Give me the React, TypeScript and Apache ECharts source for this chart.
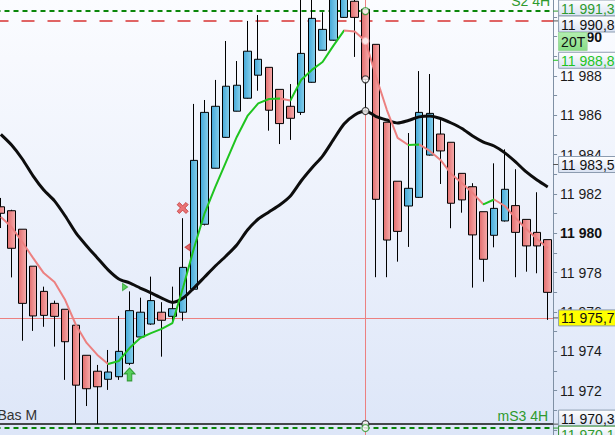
import React, { useEffect, useRef } from 'react';
import * as echarts from 'echarts';

// bougies : [ouverture, clôture, plus bas, plus haut]
const candles: number[][] = [
  [11981.35, 11981.02, 11980.27, 11981.8],
  [11981.15, 11979.24, 11977.76, 11981.2],
  [11980.21, 11976.44, 11974.54, 11980.21],
  [11978.33, 11975.8, 11975.04, 11978.33],
  [11977.05, 11975.83, 11975.25, 11977.29],
  [11976.44, 11975.78, 11974.24, 11976.58],
  [11976.14, 11974.49, 11972.55, 11976.14],
  [11975.33, 11972.28, 11970.31, 11975.33],
  [11973.8, 11972.1, 11971.22, 11973.8],
  [11972.99, 11972.2, 11970.31, 11973.31],
  [11972.58, 11972.95, 11972.04, 11974.07],
  [11972.71, 11974.0, 11972.55, 11975.8],
  [11973.39, 11976.07, 11973.3, 11977.05],
  [11974.73, 11975.99, 11974.7, 11976.73],
  [11975.39, 11976.58, 11975.35, 11977.8],
  [11975.99, 11975.58, 11973.73, 11976.5],
  [11975.78, 11976.17, 11975.54, 11977.29],
  [11975.99, 11978.27, 11975.56, 11980.77],
  [11977.16, 11983.71, 11977.1, 11986.58],
  [11980.46, 11986.15, 11980.4, 11986.78],
  [11983.31, 11986.46, 11983.3, 11987.8],
  [11984.88, 11987.48, 11984.85, 11989.78],
  [11986.21, 11987.53, 11986.2, 11988.76],
  [11986.87, 11989.26, 11986.85, 11990.8],
  [11988.04, 11988.85, 11987.25, 11991.1],
  [11988.44, 11986.26, 11985.22, 11988.44],
  [11987.32, 11985.58, 11984.54, 11987.32],
  [11986.46, 11985.85, 11984.75, 11987.59],
  [11986.15, 11989.15, 11986.02, 11992.3],
  [11987.68, 11990.93, 11987.66, 11992.4],
  [11989.31, 11990.37, 11989.3, 11991.24],
  [11989.82, 11992.1, 11989.8, 11992.5],
  [11990.98, 11992.3, 11990.95, 11992.6],
  [11991.8, 11990.98, 11988.97, 11992.0],
  [11991.39, 11987.83, 11986.22, 11991.39],
  [11989.61, 11981.73, 11977.77, 11989.61],
  [11985.65, 11979.66, 11977.77, 11985.65],
  [11982.65, 11980.1, 11978.56, 11982.65],
  [11981.39, 11982.29, 11979.31, 11985.1],
  [11981.83, 11986.15, 11981.8, 11988.25],
  [11983.98, 11986.1, 11983.95, 11988.1],
  [11985.05, 11984.19, 11982.51, 11985.76],
  [11984.63, 11981.53, 11980.26, 11984.63],
  [11983.05, 11981.7, 11981.05, 11983.05],
  [11982.37, 11979.92, 11977.24, 11982.55],
  [11981.1, 11978.68, 11977.54, 11981.1],
  [11979.9, 11981.27, 11979.29, 11983.56],
  [11980.63, 11982.24, 11980.6, 11984.27],
  [11981.41, 11980.05, 11977.77, 11983.26],
  [11980.71, 11979.36, 11978.05, 11980.71],
  [11980.05, 11979.36, 11977.97, 11982.09],
  [11979.68, 11977.0, 11975.6, 11979.68],
];

const slowMa = [
  11985.03, 11984.49, 11983.78, 11982.92, 11982.2, 11981.65, 11980.88, 11980.02, 11979.36, 11978.75,
  11978.14, 11977.68, 11977.48, 11977.22, 11976.97, 11976.71, 11976.49, 11976.71, 11977.22, 11977.78,
  11978.34, 11978.85, 11979.41, 11980.17, 11980.73, 11981.09, 11981.44, 11981.9, 11982.66, 11983.32,
  11983.93, 11984.75, 11985.56, 11986.02, 11986.22, 11985.94, 11985.76, 11985.61, 11985.74, 11985.92,
  11985.97, 11985.84, 11985.61, 11985.33, 11984.95, 11984.64, 11984.44, 11984.09, 11983.63, 11983.12,
  11982.71, 11982.36,
];

const fastMa = [
  11980.83, 11980.32, 11979.56, 11978.75, 11977.98, 11977.53, 11976.61, 11975.34, 11974.43, 11973.82,
  11973.36, 11973.51, 11974.17, 11974.68, 11974.93, 11975.14, 11975.44, 11977.26, 11979.23, 11981.02,
  11982.36, 11983.63, 11984.9, 11985.97, 11986.61, 11986.83, 11986.86, 11986.75, 11987.8, 11988.31,
  11988.71, 11989.53, 11990.31, 11990.26, 11989.78, 11987.95, 11986.27, 11984.85, 11984.49, 11984.52,
  11984.19, 11983.73, 11983.02, 11982.56, 11982.05, 11981.47, 11981.72, 11981.39, 11980.78, 11980.22,
  11979.71, 11979.26,
];

const levelS2 = 11991.3;
const levelRed = 11990.8;
const levelLow = 11970.3;
const levelMS3 = 11970.1;
const crossIndex = 34;
const crossPrice = 11975.7;

const tagValues = [11991.3, 11990.8, 11988.8, 11983.5, 11975.7, 11970.3, 11970.1];
const tagKinds = ['green', 'plain', 'lime', 'plain', 'cursor', 'plain', 'greenBox'];
const badgeText = '20T';
const badgeValue = 11989.75;

const signalIndex = [12, 12, 17, 18];
const signalValue = [11972.83, 11977.27, 11981.29, 11979.29];
const signalKind = ['buy', 'tickRight', 'cross', 'tickLeft'];

const yTicks = { min: 11969, max: 11992, step: 1 };

const FONT = 'Liberation Sans, Arial, sans-serif';
const GREEN = '#2e9a2e';
const PINK = '#ec8080';
const LIME = '#1fc41f';

const fmt = (v: number, digits: number) => {
  const [i, d] = v.toFixed(digits).split('.');
  return i.replace(/\B(?=(\d{3})+(?!\d))/g, ' ') + (d ? ',' + d : '');
};

const symbols: Record<string, any> = {
  buy: { symbol: 'path://M6,0 L12,6 L8.5,6 L8.5,13 L3.5,13 L3.5,6 L0,6 Z', size: [11, 13], offset: [0, 0], fill: '#34c834', stroke: '#158a15' },
  tickRight: { symbol: 'path://M0,0 L6,4 L0,8 Z', size: [5, 7], offset: [-4.5, 0], fill: '#3ccc3c', stroke: '#2aa02a' },
  cross: { symbol: 'path://M2,0 L5,3 L8,0 L10,2 L7,5 L10,8 L8,10 L5,7 L2,10 L0,8 L3,5 L0,2 Z', size: [11, 11], offset: [-0.5, 0], fill: '#e85454', stroke: '#c03434' },
  tickLeft: { symbol: 'path://M6,0 L0,4 L6,8 Z', size: [5, 7], offset: [-6.3, 0], fill: '#e04848', stroke: '#c03030' },
};

const tagStyles: Record<string, any> = {
  green: { text: GREEN, fill: null, border: '#8c9cb0' },
  plain: { text: '#111', fill: null, border: '#8c9cb0' },
  lime: { text: LIME, fill: null, border: '#8c9cb0' },
  cursor: { text: '#111', fill: '#ffff00', border: '#8c9cb0' },
  greenBox: { text: GREEN, fill: null, border: '#2e8a2e' },
};

export default function App() {
  const chartRef = useRef<HTMLDivElement>(null);

  useEffect(() => {
    if (!chartRef.current) return;
    const chart = echarts.init(chartRef.current, null, { renderer: 'svg' });
    const categories = candles.map((_, i) => String(i));

    // couleur de la moyenne rapide selon la pente
    const pieces: any[] = [];
    let start = 0;
    const dir = (i: number) => (fastMa[i + 1] >= fastMa[i] ? LIME : PINK);
    for (let i = 1; i < fastMa.length - 1; i++) {
      if (dir(i) !== dir(start)) {
        pieces.push({ gt: pieces.length ? start : undefined, lte: i, color: dir(start) });
        start = i;
      }
    }
    pieces.push({ gt: start, color: dir(start) });
    pieces.forEach((p) => p.gt === undefined && delete p.gt);

    const gridRight = 61.9;
    const option: any = {
      animation: false,
      textStyle: { fontFamily: FONT },
      grid: {
        left: -4.5,
        right: gridRight,
        top: -2.68,
        bottom: -14.7,
        outerBoundsMode: 'none',
        containLabel: false,
      },
      xAxis: { type: 'category', data: categories, boundaryGap: true, show: false },
      yAxis: {
        type: 'value',
        position: 'right',
        min: yTicks.min,
        max: yTicks.max,
        interval: yTicks.step,
        scale: true,
        splitLine: { show: false },
        axisLine: { show: true, lineStyle: { color: '#7f90a4', width: 1 } },
        axisTick: { show: true, length: 4, lineStyle: { color: '#7f90a4' } },
        axisLabel: {
          margin: 7,
          fontSize: 14,
          color: '#1a1a1a',
          fontFamily: FONT,
          formatter: (v: number) => {
            if (v % 2 !== 0 || v <= yTicks.min + 1 || v >= yTicks.max) return '';
            return v % 10 === 0 ? `{b|${fmt(v, 0)}}` : fmt(v, 0);
          },
          rich: { b: { fontWeight: 'bold', fontSize: 14, fontFamily: FONT, color: '#111' } },
        },
      },
      visualMap: { type: 'piecewise', show: false, seriesIndex: 2, dimension: 0, pieces },
      series: [
        {
          type: 'candlestick',
          data: candles,
          barWidth: 8,
          clip: true,
          z: 2,
          itemStyle: {
            color: new echarts.graphic.LinearGradient(0, 0, 1, 0, [
              { offset: 0, color: '#43a8d8' },
              { offset: 1, color: '#88d0ec' },
            ]),
            color0: new echarts.graphic.LinearGradient(0, 0, 1, 0, [
              { offset: 0, color: '#e26e6e' },
              { offset: 1, color: '#f6acac' },
            ]),
            borderColor: '#000',
            borderColor0: '#000',
            borderWidth: 1,
          },
          markLine: {
            silent: true,
            symbol: ['none', 'none'],
            z: 1,
            data: [
              { yAxis: levelS2, lineStyle: { color: '#0a860a', type: [5, 4], width: 2 }, label: { show: true, position: 'insideEndTop', formatter: 'S2 4H', color: GREEN, fontSize: 14, fontFamily: FONT, distance: 3 } },
              { yAxis: levelRed, lineStyle: { color: '#e06464', type: [13, 13], width: 2 }, label: { show: false } },
              { yAxis: levelLow, lineStyle: { color: '#111', type: 'solid', width: 1.5 }, label: { show: true, position: 'insideStartTop', formatter: 'Bas M', color: '#333', fontSize: 14, fontFamily: FONT, distance: 2 } },
              { yAxis: levelMS3, lineStyle: { color: '#0a860a', type: [5, 4], width: 2 }, label: { show: true, position: 'insideEndTop', formatter: 'mS3 4H', color: GREEN, fontSize: 14, fontFamily: FONT, distance: 5 } },
              { yAxis: crossPrice, lineStyle: { color: PINK, type: 'solid', width: 1 }, label: { show: false } },
              { xAxis: crossIndex, lineStyle: { color: PINK, type: 'solid', width: 1 }, label: { show: false } },
            ],
          },
        },
        {
          type: 'line',
          data: slowMa,
          showSymbol: false,
          smooth: 0.25,
          z: 3,
          lineStyle: { color: '#0d0d0d', width: 3 },
        },
        {
          type: 'line',
          data: fastMa,
          showSymbol: false,
          z: 4,
          lineStyle: { width: 2 },
        },
        {
          type: 'scatter',
          z: 5,
          data: signalIndex.map((idx, k) => {
            const s = symbols[signalKind[k]];
            return {
              value: [idx, signalValue[k]],
              symbol: s.symbol,
              symbolSize: s.size,
              symbolOffset: s.offset,
              itemStyle: { color: s.fill, borderColor: s.stroke, borderWidth: 1 },
            };
          }),
        },
        {
          type: 'scatter',
          z: 6,
          symbol: 'circle',
          symbolSize: 7,
          data: [
            { value: [crossIndex, levelS2], itemStyle: { borderColor: '#2e9a2e' } },
            { value: [crossIndex, fastMa[crossIndex]], itemStyle: { borderColor: '#f2b0b0' } },
            { value: [crossIndex, candles[crossIndex][1]], itemStyle: { borderColor: '#222' } },
            { value: [crossIndex, slowMa[crossIndex]], itemStyle: { borderColor: '#222' } },
            { value: [crossIndex, levelLow], itemStyle: { borderColor: '#222' } },
            { value: [crossIndex, levelMS3], itemStyle: { borderColor: '#2e9a2e' } },
          ].map((d) => ({ ...d, itemStyle: { ...d.itemStyle, color: '#fff', borderWidth: 1.2 } })),
        },
      ],
    };
    chart.setOption(option);

    // étiquettes de prix sur l'axe
    const yOf = (v: number) => (chart.convertToPixel({ gridIndex: 0 }, [0, v]) as number[])[1];
    const axisX = chart.getWidth() - gridRight;
    const h = 16;
    const boxes = tagValues.map((v, k) => ({ k, v, y: yOf(v) })).sort((a, b) => a.y - b.y);
    for (let pass = 0; pass < 6; pass++) {
      for (let j = 1; j < boxes.length; j++) {
        const gap = boxes[j].y - boxes[j - 1].y;
        if (gap < h) {
          const d = (h - gap) / 2;
          boxes[j - 1].y -= d;
          boxes[j].y += d;
        }
      }
    }
    const boxFill = new echarts.graphic.LinearGradient(0, 0, 0, 1, [
      { offset: 0, color: '#ffffff' },
      { offset: 1, color: '#d9e2f2' },
    ]);
    const graphic: any[] = [];
    boxes.forEach((b) => {
      const st = tagStyles[tagKinds[b.k]];
      graphic.push({
        type: 'line',
        z: 100,
        shape: { x1: axisX, y1: yOf(b.v), x2: axisX + 5, y2: yOf(b.v) },
        style: { stroke: st.text === '#111' ? '#555' : st.text, lineWidth: 1 },
      });
      graphic.push({
        type: 'rect',
        z: 100,
        shape: { x: axisX + 5.5, y: b.y - h / 2, width: 80, height: h },
        style: { fill: st.fill || boxFill, stroke: st.border, lineWidth: 1 },
      });
      graphic.push({
        type: 'text',
        z: 101,
        x: axisX + 8,
        y: b.y + 0.5,
        style: { text: fmt(b.v, 1), fill: st.text, font: `14px ${FONT}`, verticalAlign: 'middle' },
      });
    });
    const by = yOf(badgeValue);
    graphic.push({
      type: 'rect',
      z: 100,
      shape: { x: axisX + 5.5, y: by - 9, width: 28.5, height: 18 },
      style: {
        fill: new echarts.graphic.LinearGradient(0, 0, 0, 1, [
          { offset: 0, color: '#b4eeb0' },
          { offset: 1, color: '#86dc86' },
        ]),
        stroke: '#9ad89a',
        lineWidth: 1,
      },
    });
    graphic.push({
      type: 'text',
      z: 101,
      x: axisX + 8,
      y: by + 0.5,
      style: { text: badgeText, fill: '#111', font: `14px ${FONT}`, verticalAlign: 'middle' },
    });
    chart.setOption({ graphic });

    return () => {
      chart.dispose();
    };
  }, []);

  return (
    <div
      ref={chartRef}
      style={{
        position: 'fixed',
        left: 0,
        top: 0,
        width: '615px',
        height: '435px',
        background: 'linear-gradient(#fbfcff, #dde6f8)',
      }}
    ></div>
  );
}
